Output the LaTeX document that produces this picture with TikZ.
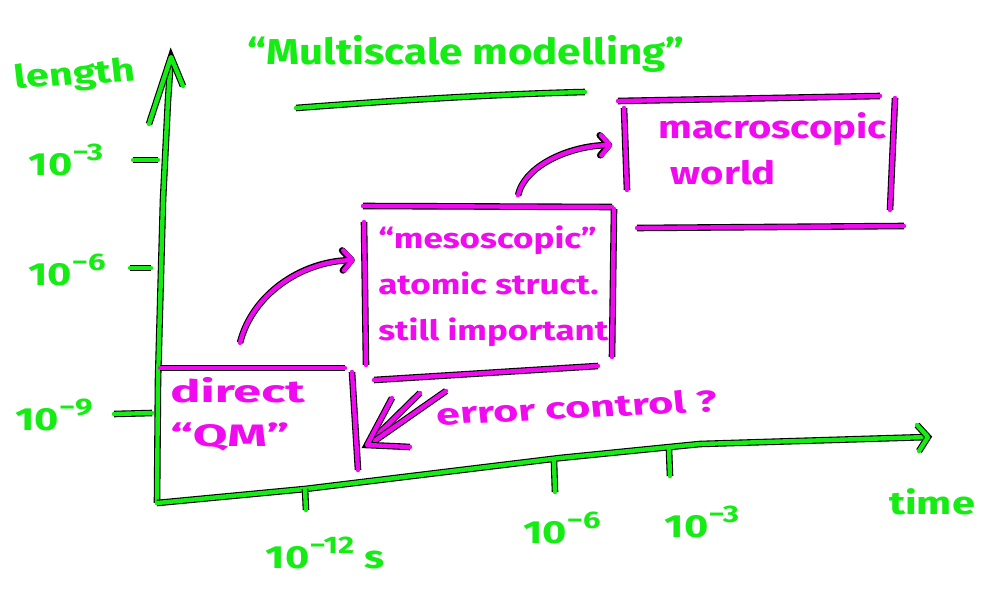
\documentclass[tikz,border=0pt]{standalone}
\usepackage{fontspec}
\setmainfont{Fira Sans}
\usetikzlibrary{arrows.meta}
\definecolor{penG}{RGB}{20,236,20}
\definecolor{penM}{RGB}{240,10,240}
\tikzset{
  x=1pt, y=-1pt,
  pen/.style={line width=4.4pt, line cap=round, line join=round,
    preaction={draw=black, line width=6.6pt}},
  gstroke/.style={pen, draw=penG},
  mstroke/.style={pen, draw=penM},
  barb/.style={-{Straight Barb[length=9pt,width=20pt,line cap=round,line join=round]}},
  gtext/.style={text=penG, inner sep=0pt, xscale=1.3, font=\bfseries\fontsize{32}{34}\selectfont},
  mtext/.style={text=penM, inner sep=0pt, xscale=1.25, font=\bfseries\fontsize{28}{34}\selectfont},
  area/.style={draw=none, inner sep=0pt, minimum width=#1},
}
% raised exponent for the scale labels
\newcommand{\expo}[1]{\raisebox{0.45em}{\fontsize{24}{24}\selectfont#1}}
\begin{document}
\begin{tikzpicture}
\useasboundingbox (0,0) rectangle (981,591);

% title and its underline
\node[gtext, xscale=0.9, font=\bfseries\fontsize{36}{38}\selectfont] (title) at (466,54) {“Multiscale modelling”};
\draw[gstroke] (296,108) .. controls (400,100) and (500,94) .. (585,92);

% axes
\coordinate (O) at (157,503);
\coordinate (ytop) at (171,57);
\coordinate (xend) at (928,437);
\draw[gstroke] (O) -- (158,380) -- (163,200) -- (168,100) -- (ytop);
\draw[gstroke] (149,124) -- (ytop) -- (183,86);
\draw[gstroke] (O) -- (305,489) -- (560,458) -- (700,444) -- (xend);
\draw[gstroke] (917,425) -- (xend) -- (919,451);

\node[gtext, rotate=5] (ylab) at (75,76) {length};
\node[gtext, xscale=1.0] (xlab) at (932,502) {time};

% ticks on the length axis
\coordinate (ty3) at (158,160);
\coordinate (ty6) at (151,268);
\coordinate (ty9) at (152,413);
\draw[gstroke] (133,160) -- (ty3);
\draw[gstroke] (130,268) -- (ty6);
\draw[gstroke] (114,414) -- (ty9);
\node[gtext] (ly3) at (66,160) {10\expo{−3}};
\node[gtext] (ly6) at (67,270) {10\expo{−6}};
\node[gtext] (ly9) at (54,415) {10\expo{−9}};

% ticks on the time axis
\coordinate (tx12) at (305,489);
\coordinate (tx6) at (554,462);
\coordinate (tx3) at (669,450);
\draw[gstroke] (tx12) -- (306,510);
\draw[gstroke] (tx6) -- (555,492);
\draw[gstroke] (tx3) -- (670,476);
\node[gtext] (lx12) at (325,553) {10\expo{−12} s};
\node[gtext] (lx6) at (562,528) {10\expo{−6}};
\node[gtext] (lx3) at (702,522) {10\expo{−3}};

% box: direct QM
\node[area=195pt, minimum height=104pt] (qm) at (257,420) {};
\node[mtext, xscale=1.3, font=\bfseries\fontsize{31}{44}\selectfont, align=left, anchor=north west] (qmtext) at (170,377) {direct\\“QM”};
\draw[mstroke] (160,368) -- (345,368);
\draw[mstroke] (352,372) -- (358,470);

% box: mesoscopic
\node[area=250pt, minimum height=167pt] (meso) at (489,289) {};
\node[mtext, align=left, anchor=north west, font=\bfseries\fontsize{28}{46}\selectfont] (mesotext) at (378,226) {“mesoscopic”\\atomic struct.\\still important};
\draw[mstroke] (363,206) -- (612,207);
\draw[mstroke] (364,222) -- (366,365);
\draw[mstroke] (614,209) -- (612,357);
\draw[mstroke] (374,380) -- (598,366);

% box: macroscopic
\node[area=271pt, minimum height=128pt] (macro) at (759,164) {};
\node[mtext, xscale=1.0, align=left, anchor=north west, font=\bfseries\fontsize{32}{46}\selectfont] (macrotext) at (658,112) {macroscopic\\\hspace*{10pt}world};
\draw[mstroke] (618,101) -- (880,96);
\draw[mstroke] (624,108) -- (627,190);
\draw[mstroke] (895,98) -- (890,210);
\draw[mstroke] (637,228) -- (904,226);

% connectors between the scales
\draw[mstroke, barb] ([xshift=-17pt,yshift=25pt]qm.north)
  .. controls (252,295) and (300,262) .. ([xshift=-9pt,yshift=29pt]meso.west);
\draw[mstroke, barb] ([xshift=29pt,yshift=10pt]meso.north)
  .. controls (525,165) and (570,146) .. ([xshift=-11pt,yshift=19pt]macro.west);

% error control
\node[mtext, xscale=1.15, rotate=4, anchor=west, font=\bfseries\fontsize{30}{34}\selectfont] (err) at (436,414) {error control ?};
\coordinate (etip) at (367,445);
\draw[mstroke] (420,393) -- (etip);
\draw[mstroke] (446,391) -- (373,442);
\draw[mstroke] (392,398) -- (etip) -- (410,447);
\end{tikzpicture}
\end{document}
